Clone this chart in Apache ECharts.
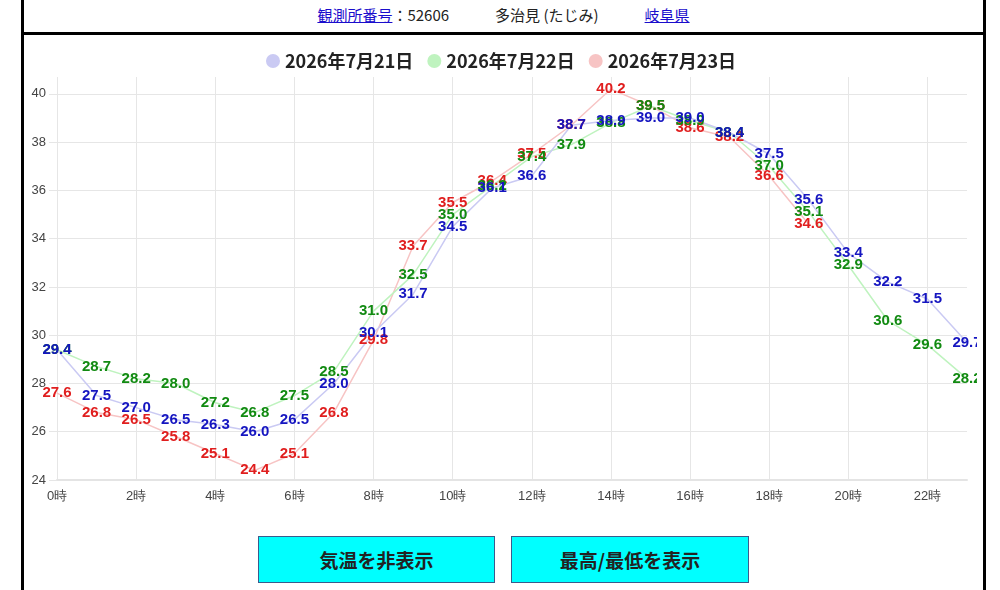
<!DOCTYPE html>
<html lang="ja">
<head>
<meta charset="utf-8">
<title>多治見 気温</title>
<script src="https://cdn.jsdelivr.net/npm/echarts@6/dist/echarts.min.js"></script>
<style>
    body {
        margin: 0;
        background: #fff;
        font-family: "Noto Sans CJK JP", "Noto Sans", sans-serif;
        width: 1000px;
        height: 590px;
        overflow: hidden;
        position: relative;
    }
    .line { position: absolute; background: #000; }
    .info {
        position: absolute;
        left: 24px;
        width: 959px;
        top: 4px;
        display: flex;
        justify-content: center;
        gap: 46px;
        font-size: 15px;
        color: #222;
    }
    .info a { color: #1a0dcc; text-decoration: underline; }
    #tempChart {
        position: absolute;
        left: 25px;
        top: 35px;
        width: 952px;
        height: 492px;
    }
    .btn {
        position: absolute;
        top: 536px;
        height: 45px;
        background: #00ffff;
        border: 1px solid #3b5b8c;
        font-size: 19px;
        font-weight: bold;
        color: #222;
        display: flex;
        align-items: center;
        justify-content: center;
    }
</style>
</head>
<body>
<div class="line" style="left:21px; top:0; width:3px; height:590px;"></div>
<div class="line" style="left:983px; top:0; width:3px; height:590px;"></div>
<div class="line" style="left:21px; top:32px; width:965px; height:3px;"></div>

<div class="info">
    <span><a>観測所番号</a>：52606</span>
    <span>多治見 (たじみ)</span>
    <span><a>岐阜県</a></span>
</div>

<div id="tempChart"></div>

<div class="btn" style="left:258px; width:235px;">気温を非表示</div>
<div class="btn" style="left:511px; width:236px;">最高/最低を表示</div>

<script>
// 時刻ラベル
const hours = ['0時', '1時', '2時', '3時', '4時', '5時', '6時', '7時', '8時', '9時', '10時', '11時',
    '12時', '13時', '14時', '15時', '16時', '17時', '18時', '19時', '20時', '21時', '22時', '23時'];

const dayNames = ['2026年7月21日', '2026年7月22日', '2026年7月23日'];

// 気温 (℃)
const temp0721 = [29.4, 27.5, 27.0, 26.5, 26.3, 26.0, 26.5, 28.0, 30.1, 31.7, 34.5, 36.1,
    36.6, 38.7, 38.9, 39.0, 39.0, 38.4, 37.5, 35.6, 33.4, 32.2, 31.5, 29.7];
const temp0722 = [29.4, 28.7, 28.2, 28.0, 27.2, 26.8, 27.5, 28.5, 31.0, 32.5, 35.0, 36.2,
    37.4, 37.9, 38.8, 39.5, 38.9, 38.4, 37.0, 35.1, 32.9, 30.6, 29.6, 28.2];
const temp0723 = [27.6, 26.8, 26.5, 25.8, 25.1, 24.4, 25.1, 26.8, 29.8, 33.7, 35.5, 36.4,
    37.5, 38.7, 40.2, 39.5, 38.6, 38.2, 36.6, 34.6];

const yTicks = [24, 26, 28, 30, 32, 34, 36, 38, 40];

function makeSeries(name, data, lineColor, labelColor) {
    return {
        name: name,
        type: 'line',
        data: data,
        symbol: 'circle',
        symbolSize: 1,
        itemStyle: { color: lineColor },
        lineStyle: { color: lineColor, width: 1.5 },
        label: {
            show: true,
            position: 'inside',
            color: labelColor,
            fontSize: 15,
            fontWeight: 'bold',
            fontFamily: 'Liberation Sans, Arial, sans-serif',
            formatter: function (p) { return p.value.toFixed(1); }
        },
        emphasis: { disabled: true }
    };
}

function initTempChart() {
    const chartDom = document.getElementById('tempChart');
    const myChart = echarts.init(chartDom);

    const option = {
        animation: false,
        legend: {
            data: dayNames,
            top: 12,
            left: 'center',
            icon: 'circle',
            itemWidth: 14,
            itemHeight: 14,
            itemGap: 14,
            textStyle: {
                fontSize: 18,
                fontWeight: 'bold',
                color: '#222',
                fontFamily: 'Noto Sans CJK JP, sans-serif'
            }
        },
        grid: {
            left: 32,
            right: 10,
            top: 42,
            bottom: 47
        },
        xAxis: {
            type: 'category',
            data: hours,
            boundaryGap: false,
            axisLine: { lineStyle: { color: '#e4e4e4', width: 2 } },
            axisTick: { show: false },
            axisLabel: {
                interval: 1,
                color: '#444',
                fontSize: 13,
                margin: 10
            },
            splitLine: {
                show: true,
                interval: 1,
                lineStyle: { color: '#e6e6e6', width: 1 }
            }
        },
        yAxis: {
            type: 'value',
            min: yTicks[0],
            max: 40.7,
            interval: 2,
            axisLine: { show: false },
            axisTick: {
                show: true,
                length: 8,
                lineStyle: { color: '#e6e6e6' }
            },
            axisLabel: {
                color: '#444',
                fontSize: 13,
                margin: 11,
                showMaxLabel: false,
                formatter: function (v) {
                    return yTicks.indexOf(v) >= 0 ? String(v) : '';
                }
            },
            splitLine: {
                show: true,
                showMaxLine: false,
                lineStyle: { color: '#e6e6e6', width: 1 }
            }
        },
        // 描画順: 23日 -> 22日 -> 21日 (21日のラベルが最前面)
        series: [
            makeSeries(dayNames[2], temp0723, '#f7c4c4', '#e01e1e'),
            makeSeries(dayNames[1], temp0722, '#bff3bf', '#118a11'),
            makeSeries(dayNames[0], temp0721, '#cacaf3', '#1515c0')
        ]
    };

    myChart.setOption(option);
    return myChart;
}

initTempChart();
</script>
</body>
</html>
